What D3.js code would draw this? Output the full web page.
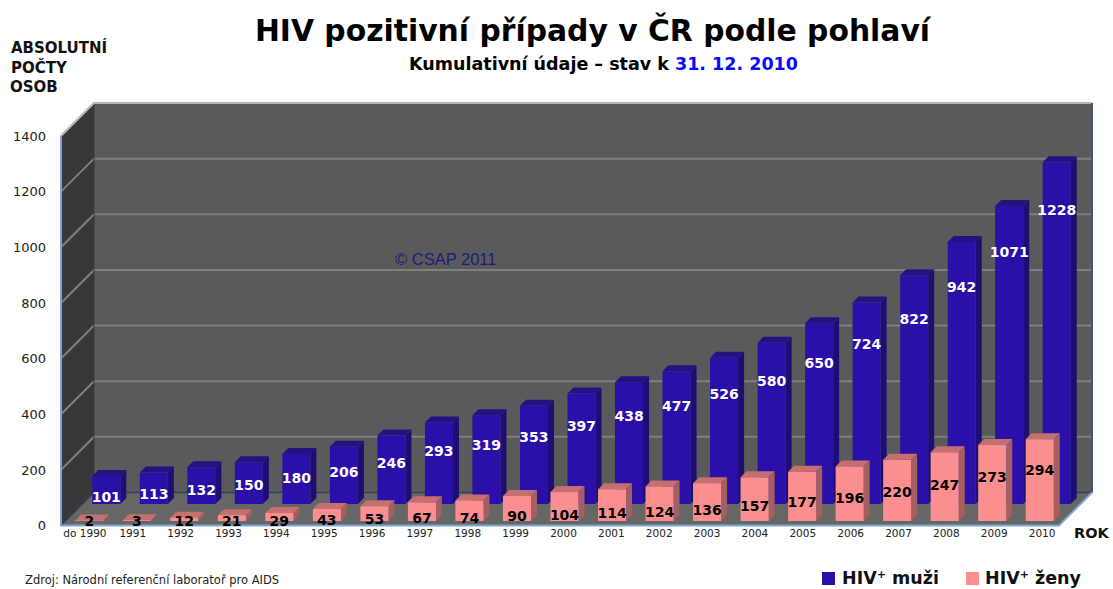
<!DOCTYPE html>
<html>
<head>
<meta charset="utf-8">
<script src="https://cdn.jsdelivr.net/npm/d3@7"></script>
<style>
  html, body { margin: 0; padding: 0; background: #fff; }
  text { font-family: "DejaVu Sans", sans-serif; }
</style>
</head>
<body>
<div id="chart"></div>
<script>
const years = ["do 1990", "1991", "1992", "1993", "1994", "1995", "1996", "1997", "1998", "1999", "2000",
  "2001", "2002", "2003", "2004", "2005", "2006", "2007", "2008", "2009", "2010"];
const men = [101, 113, 132, 150, 180, 206, 246, 293, 319, 353, 397, 438, 477, 526, 580, 650, 724, 822, 942, 1071, 1228];
const women = [2, 3, 12, 21, 29, 43, 53, 67, 74, 90, 104, 114, 124, 136, 157, 177, 196, 220, 247, 273, 294];
const yTicks = [0, 200, 400, 600, 800, 1000, 1200, 1400];

const width = 1113;
const height = 589;

// front edge of the 3D box, the back wall sits wallDepth up and to the right
const boxLeft = 61, boxRight = 1059, boxBottom = 525.5, boxTop = 136;
const wallDepth = 33;
const barDepth = 6;

const x = d3.scaleBand().domain(years).range([boxLeft, boxRight]).paddingInner(0.41).paddingOuter(0.205);
const xLabels = d3.scaleBand().domain(years).range([boxLeft, 1066]);
const y = d3.scaleLinear().domain([0, 1400]).range([boxBottom, boxTop]);

const svg = d3.select("#chart").append("svg")
  .attr("width", width)
  .attr("height", height)
  .style("display", "block");

const poly = (pts) => "M" + pts.map((p) => p.join(",")).join("L") + "Z";

// walls and floor
svg.append("path").attr("fill", "#5a5a5a")
  .attr("d", poly([[boxLeft + wallDepth, boxTop - wallDepth], [boxRight + wallDepth, boxTop - wallDepth],
    [boxRight + wallDepth, boxBottom - wallDepth], [boxLeft + wallDepth, boxBottom - wallDepth]]));
svg.append("path").attr("fill", "#383838")
  .attr("d", poly([[boxLeft, boxTop], [boxLeft + wallDepth, boxTop - wallDepth], [boxLeft + wallDepth, boxBottom - wallDepth], [boxLeft, boxBottom]]));
svg.append("path").attr("fill", "#666666")
  .attr("d", poly([[boxLeft, boxBottom], [boxLeft + wallDepth, boxBottom - wallDepth], [boxRight + wallDepth, boxBottom - wallDepth], [boxRight, boxBottom]]));

// grid
yTicks.forEach((t) => {
  svg.append("path")
    .attr("fill", "none")
    .attr("stroke", t === 0 ? "#2f4358" : "#7f7f7f")
    .attr("stroke-width", t === 0 ? 1.5 : 2)
    .attr("d", `M${boxLeft},${y(t)}L${boxLeft + wallDepth},${y(t) - wallDepth}L${boxRight + wallDepth},${y(t) - wallDepth}`);
});

svg.append("line")
  .attr("x1", boxLeft + wallDepth).attr("x2", boxLeft + wallDepth)
  .attr("y1", boxTop - wallDepth).attr("y2", boxBottom - wallDepth)
  .attr("stroke", "#2b3a4c").attr("stroke-width", 1);
svg.append("path").attr("fill", "none").attr("stroke", "#c8c8c8").attr("stroke-width", 1.5)
  .attr("d", `M${boxLeft},${boxTop}L${boxLeft + wallDepth},${boxTop - wallDepth}L${boxRight + wallDepth},${boxTop - wallDepth}`);
svg.append("path").attr("fill", "none").attr("stroke", "#44566a").attr("stroke-width", 2)
  .attr("d", `M${boxRight + wallDepth},${boxTop - wallDepth}V${boxBottom - wallDepth}`);
svg.append("path").attr("fill", "none").attr("stroke", "#7fa6cf").attr("stroke-width", 2)
  .attr("d", `M${boxLeft},${boxTop}V${boxBottom}H${boxRight}L${boxRight + wallDepth},${boxBottom - wallDepth}`);

svg.append("text")
  .attr("x", 395).attr("y", 265)
  .attr("font-size", 16.5)
  .style("font-family", "'Liberation Sans', sans-serif")
  .attr("fill", "#1c1c78")
  .text("© CSAP 2011");

function drawBars(name, values, z, front, side, topFace) {
  const g = svg.append("g").attr("class", name);
  const base = boxBottom - z;
  const bars = g.selectAll("g").data(values).join("g");
  const bx = (d, i) => x(years[i]) + z;
  const bw = x.bandwidth();
  const by = (d) => y(d) - z;

  bars.append("path").attr("fill", side)
    .attr("d", (d, i) => poly([[bx(d, i) + bw, by(d)], [bx(d, i) + bw + barDepth, by(d) - barDepth],
      [bx(d, i) + bw + barDepth, base - barDepth], [bx(d, i) + bw, base]]));
  bars.append("path").attr("fill", topFace)
    .attr("d", (d, i) => poly([[bx(d, i), by(d)], [bx(d, i) + barDepth, by(d) - barDepth],
      [bx(d, i) + bw + barDepth, by(d) - barDepth], [bx(d, i) + bw, by(d)]]));
  bars.append("rect").attr("fill", front)
    .attr("x", (d, i) => bx(d, i))
    .attr("y", by)
    .attr("width", bw)
    .attr("height", (d) => base - by(d));
}

// men stand behind women
drawBars("men", men, 21.5, "#2a0fa8", "#1d0e74", "#241280");
drawBars("women", women, 4.5, "#fb8f8f", "#a55f5f", "#c56f6f");

// value labels, they drift down the bar as it gets taller
const labels = (values, cls, fill, cx, cy) => {
  svg.append("g").attr("class", cls)
    .selectAll("text").data(values).join("text")
    .attr("x", cx)
    .attr("y", cy)
    .attr("dy", "0.36em")
    .attr("text-anchor", "middle")
    .attr("font-size", 14)
    .attr("font-weight", "bold")
    .attr("fill", fill)
    .text((d) => d);
};

labels(men, "men-labels", "#ffffff",
  (d, i) => x(years[i]) + 21.5 + x.bandwidth() / 2,
  (d) => {
    const h = boxBottom - y(d);
    return y(d) - 21.5 + 17 + 0.09 * h + 6.5 * Math.sin(Math.PI * h / 342);
  });
labels(women, "women-labels", "#000000",
  (d, i) => x(years[i]) + 4.5 + x.bandwidth() / 2,
  (d) => {
    const h = boxBottom - y(d);
    return boxBottom - 4.5 - (h * h) / 130;
  });

// axes
const yAxis = svg.append("g")
  .attr("transform", "translate(46,0)")
  .call(d3.axisLeft(y).tickValues(yTicks).tickSize(0).tickPadding(0).tickFormat(d3.format("d")));
yAxis.select(".domain").remove();
yAxis.selectAll("text").attr("font-size", 13).attr("fill", "#222").style("font-family", "'DejaVu Sans', sans-serif");

const xAxis = svg.append("g")
  .attr("transform", `translate(0,${boxBottom + 3.5})`)
  .call(d3.axisBottom(xLabels).tickSize(0).tickPadding(1));
xAxis.select(".domain").remove();
xAxis.selectAll("text").attr("font-size", 10.5).attr("fill", "#222").style("font-family", "'DejaVu Sans', sans-serif");

// titles
svg.append("text").attr("x", 592.5).attr("y", 41).attr("text-anchor", "middle")
  .attr("font-size", 29.8).attr("font-weight", "bold").attr("fill", "#000")
  .text("HIV pozitivní případy v ČR podle pohlaví");

const sub = svg.append("text").attr("x", 603.5).attr("y", 70).attr("text-anchor", "middle")
  .attr("font-size", 17.5).attr("font-weight", "bold").attr("fill", "#000");
sub.append("tspan").text("Kumulativní údaje – stav k ");
sub.append("tspan").attr("fill", "#0a0aff").text("31. 12. 2010");

["ABSOLUTNÍ", "POČTY", "OSOB"].forEach((t, i) => {
  svg.append("text").attr("x", i === 2 ? 10 : 11).attr("y", [53, 73, 92][i])
    .attr("font-size", 15).attr("font-weight", "bold").attr("fill", "#111").text(t);
});

svg.append("text").attr("x", 1074).attr("y", 538)
  .attr("font-size", 14.5).attr("font-weight", "bold").attr("fill", "#111").text("ROK");

svg.append("text").attr("x", 25).attr("y", 584)
  .attr("font-size", 11.5).attr("fill", "#222").text("Zdroj: Národní referenční laboratoř pro AIDS");

// legend
const legend = [
  { label: "muži", color: "#2a0fa8", box: 822, text: 842 },
  { label: "ženy", color: "#fb8f8f", box: 966, text: 985 },
];
legend.forEach((l) => {
  svg.append("rect").attr("x", l.box).attr("y", 572).attr("width", 13).attr("height", 13).attr("fill", l.color);
  const t = svg.append("text").attr("x", l.text).attr("y", 584)
    .attr("font-size", 17.5).attr("font-weight", "bold").attr("fill", "#111");
  t.append("tspan").text("HIV");
  t.append("tspan").attr("font-size", 11).attr("dy", -6).text("+");
  t.append("tspan").attr("dy", 6).text(" " + l.label);
});
</script>
</body>
</html>
